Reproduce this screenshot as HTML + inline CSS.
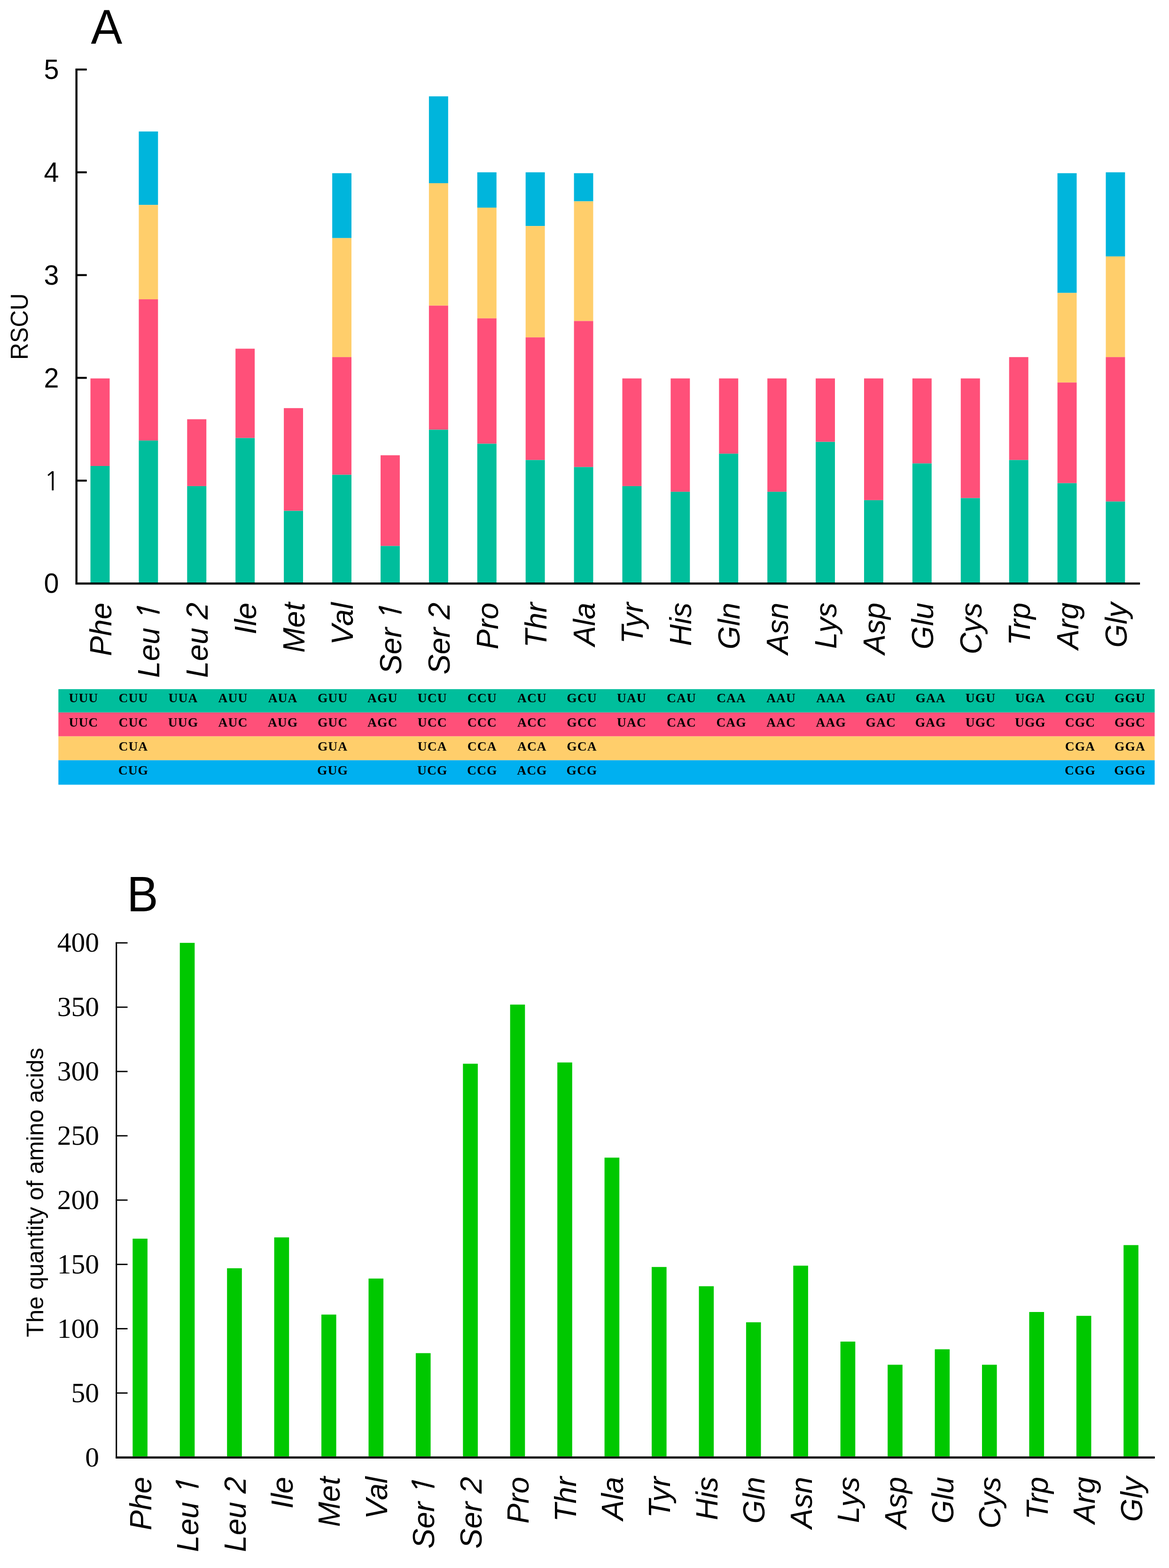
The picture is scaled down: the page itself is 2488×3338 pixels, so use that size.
<!DOCTYPE html><html><head><meta charset="utf-8"><title>RSCU and amino acid composition</title><style>html,body{margin:0;padding:0;background:#fff;overflow:hidden}svg{display:block}.s{font-family:"Liberation Sans",Arial,sans-serif}.r{font-family:"Liberation Serif","Times New Roman",serif}</style></head><body>
<svg width="2488" height="3338" viewBox="0 0 2488 3338">
<rect x="0" y="0" width="2488" height="3338" fill="#fff"/>
<text class="s" transform="translate(193.6 92.8) scale(1 1.04)" font-size="100">A</text>
<rect x="192.5" y="805.6" width="40.9" height="186.4" fill="#FF5079"/>
<rect x="192.5" y="992" width="40.9" height="248" fill="#00BE9C"/>
<rect x="295.4" y="279.9" width="40.9" height="156.4" fill="#00B5DC"/>
<rect x="295.4" y="436.3" width="40.9" height="200.8" fill="#FFCE6B"/>
<rect x="295.4" y="637.1" width="40.9" height="300.7" fill="#FF5079"/>
<rect x="295.4" y="937.8" width="40.9" height="302.2" fill="#00BE9C"/>
<rect x="398.3" y="892.5" width="40.9" height="142.4" fill="#FF5079"/>
<rect x="398.3" y="1034.9" width="40.9" height="205.1" fill="#00BE9C"/>
<rect x="501.2" y="742.3" width="40.9" height="190.2" fill="#FF5079"/>
<rect x="501.2" y="932.5" width="40.9" height="307.5" fill="#00BE9C"/>
<rect x="604.1" y="868.8" width="40.9" height="218.7" fill="#FF5079"/>
<rect x="604.1" y="1087.5" width="40.9" height="152.5" fill="#00BE9C"/>
<rect x="707.1" y="368.7" width="40.9" height="138.1" fill="#00B5DC"/>
<rect x="707.1" y="506.8" width="40.9" height="253.4" fill="#FFCE6B"/>
<rect x="707.1" y="760.2" width="40.9" height="250.5" fill="#FF5079"/>
<rect x="707.1" y="1010.7" width="40.9" height="229.3" fill="#00BE9C"/>
<rect x="810" y="969.2" width="40.9" height="193.1" fill="#FF5079"/>
<rect x="810" y="1162.3" width="40.9" height="77.7" fill="#00BE9C"/>
<rect x="912.9" y="205.1" width="40.9" height="184.9" fill="#00B5DC"/>
<rect x="912.9" y="390" width="40.9" height="260.6" fill="#FFCE6B"/>
<rect x="912.9" y="650.6" width="40.9" height="264.1" fill="#FF5079"/>
<rect x="912.9" y="914.7" width="40.9" height="325.3" fill="#00BE9C"/>
<rect x="1015.8" y="366.8" width="40.9" height="75.3" fill="#00B5DC"/>
<rect x="1015.8" y="442.1" width="40.9" height="235.6" fill="#FFCE6B"/>
<rect x="1015.8" y="677.7" width="40.9" height="266.9" fill="#FF5079"/>
<rect x="1015.8" y="944.6" width="40.9" height="295.4" fill="#00BE9C"/>
<rect x="1118.7" y="366.8" width="40.9" height="114.4" fill="#00B5DC"/>
<rect x="1118.7" y="481.2" width="40.9" height="237" fill="#FFCE6B"/>
<rect x="1118.7" y="718.2" width="40.9" height="261.1" fill="#FF5079"/>
<rect x="1118.7" y="979.3" width="40.9" height="260.7" fill="#00BE9C"/>
<rect x="1221.6" y="368.7" width="40.9" height="59.9" fill="#00B5DC"/>
<rect x="1221.6" y="428.6" width="40.9" height="254.8" fill="#FFCE6B"/>
<rect x="1221.6" y="683.4" width="40.9" height="310.9" fill="#FF5079"/>
<rect x="1221.6" y="994.3" width="40.9" height="245.7" fill="#00BE9C"/>
<rect x="1324.5" y="805.6" width="40.9" height="229.3" fill="#FF5079"/>
<rect x="1324.5" y="1034.9" width="40.9" height="205.1" fill="#00BE9C"/>
<rect x="1427.4" y="805.6" width="40.9" height="241.3" fill="#FF5079"/>
<rect x="1427.4" y="1046.9" width="40.9" height="193.1" fill="#00BE9C"/>
<rect x="1530.3" y="805.6" width="40.9" height="160.2" fill="#FF5079"/>
<rect x="1530.3" y="965.8" width="40.9" height="274.2" fill="#00BE9C"/>
<rect x="1633.2" y="805.6" width="40.9" height="241.3" fill="#FF5079"/>
<rect x="1633.2" y="1046.9" width="40.9" height="193.1" fill="#00BE9C"/>
<rect x="1736.1" y="805.6" width="40.9" height="135.1" fill="#FF5079"/>
<rect x="1736.1" y="940.7" width="40.9" height="299.3" fill="#00BE9C"/>
<rect x="1839" y="805.6" width="40.9" height="259.2" fill="#FF5079"/>
<rect x="1839" y="1064.8" width="40.9" height="175.2" fill="#00BE9C"/>
<rect x="1941.9" y="805.6" width="40.9" height="181" fill="#FF5079"/>
<rect x="1941.9" y="986.6" width="40.9" height="253.4" fill="#00BE9C"/>
<rect x="2044.8" y="805.6" width="40.9" height="254.8" fill="#FF5079"/>
<rect x="2044.8" y="1060.4" width="40.9" height="179.6" fill="#00BE9C"/>
<rect x="2147.7" y="760.2" width="40.9" height="219.1" fill="#FF5079"/>
<rect x="2147.7" y="979.3" width="40.9" height="260.7" fill="#00BE9C"/>
<rect x="2250.6" y="368.7" width="40.9" height="254.9" fill="#00B5DC"/>
<rect x="2250.6" y="623.6" width="40.9" height="190.7" fill="#FFCE6B"/>
<rect x="2250.6" y="814.3" width="40.9" height="214.3" fill="#FF5079"/>
<rect x="2250.6" y="1028.6" width="40.9" height="211.4" fill="#00BE9C"/>
<rect x="2353.5" y="366.8" width="40.9" height="179.1" fill="#00B5DC"/>
<rect x="2353.5" y="545.9" width="40.9" height="214.3" fill="#FFCE6B"/>
<rect x="2353.5" y="760.2" width="40.9" height="307.5" fill="#FF5079"/>
<rect x="2353.5" y="1067.7" width="40.9" height="172.3" fill="#00BE9C"/>
<path d="M162.7 146V1244.4M160.5 1242.2H2426.2" stroke="#000" stroke-width="4.4" fill="none"/>
<path d="M161 1023.2H184.7" stroke="#000" stroke-width="4.2"/>
<text transform="translate(127.4 1044)" font-size="56" text-anchor="end" style="font-family:NanumGothic,'Liberation Sans',sans-serif">1</text>
<path d="M161 804.4H184.7" stroke="#000" stroke-width="4.2"/>
<text class="s" transform="translate(125.5 824.6) scale(1 1.035)" font-size="57.5" text-anchor="end">2</text>
<path d="M161 585.6H184.7" stroke="#000" stroke-width="4.2"/>
<text class="s" transform="translate(125.5 605.8) scale(1 1.035)" font-size="57.5" text-anchor="end">3</text>
<path d="M161 366.8H184.7" stroke="#000" stroke-width="4.2"/>
<text class="s" transform="translate(125.5 387) scale(1 1.035)" font-size="57.5" text-anchor="end">4</text>
<path d="M161 148H184.7" stroke="#000" stroke-width="4.2"/>
<text class="s" transform="translate(125.5 168.2) scale(1 1.035)" font-size="57.5" text-anchor="end">5</text>
<text class="s" transform="translate(125.5 1262.2) scale(1 1.035)" font-size="57.5" text-anchor="end">0</text>
<text class="s" transform="translate(59.2 695.2) rotate(-90) scale(1 1.04)" font-size="50" text-anchor="middle">RSCU</text>
<text class="s" transform="translate(236.5 1282.8) rotate(-90)" font-size="64" font-style="italic" text-anchor="end">Phe</text>
<text class="s" transform="translate(339.4 1282.8) rotate(-90)" font-size="64" font-style="italic" text-anchor="end">Leu <tspan style="font-family:NanumGothic,'Liberation Sans',sans-serif;stroke:#000;stroke-width:1px;letter-spacing:4px" dx="-7.2">1</tspan></text>
<text class="s" transform="translate(442.3 1282.8) rotate(-90)" font-size="64" font-style="italic" text-anchor="end">Leu 2</text>
<text class="s" transform="translate(545.2 1282.8) rotate(-90)" font-size="64" font-style="italic" text-anchor="end">Ile</text>
<text class="s" transform="translate(648.1 1282.8) rotate(-90)" font-size="64" font-style="italic" text-anchor="end">Met</text>
<text class="s" transform="translate(751 1282.8) rotate(-90)" font-size="64" font-style="italic" text-anchor="end">Val</text>
<text class="s" transform="translate(853.9 1282.8) rotate(-90)" font-size="64" font-style="italic" text-anchor="end">Ser <tspan style="font-family:NanumGothic,'Liberation Sans',sans-serif;stroke:#000;stroke-width:1px;letter-spacing:4px" dx="-7.2">1</tspan></text>
<text class="s" transform="translate(956.8 1282.8) rotate(-90)" font-size="64" font-style="italic" text-anchor="end">Ser 2</text>
<text class="s" transform="translate(1059.7 1282.8) rotate(-90)" font-size="64" font-style="italic" text-anchor="end">Pro</text>
<text class="s" transform="translate(1162.6 1282.8) rotate(-90)" font-size="64" font-style="italic" text-anchor="end">Thr</text>
<text class="s" transform="translate(1265.5 1282.8) rotate(-90)" font-size="64" font-style="italic" text-anchor="end">Ala</text>
<text class="s" transform="translate(1368.4 1282.8) rotate(-90)" font-size="64" font-style="italic" text-anchor="end">Tyr</text>
<text class="s" transform="translate(1471.4 1282.8) rotate(-90)" font-size="64" font-style="italic" text-anchor="end">His</text>
<text class="s" transform="translate(1574.3 1282.8) rotate(-90)" font-size="64" font-style="italic" text-anchor="end">Gln</text>
<text class="s" transform="translate(1677.2 1282.8) rotate(-90)" font-size="64" font-style="italic" text-anchor="end">Asn</text>
<text class="s" transform="translate(1780.1 1282.8) rotate(-90)" font-size="64" font-style="italic" text-anchor="end">Lys</text>
<text class="s" transform="translate(1883 1282.8) rotate(-90)" font-size="64" font-style="italic" text-anchor="end">Asp</text>
<text class="s" transform="translate(1985.9 1282.8) rotate(-90)" font-size="64" font-style="italic" text-anchor="end">Glu</text>
<text class="s" transform="translate(2088.8 1282.8) rotate(-90)" font-size="64" font-style="italic" text-anchor="end">Cys</text>
<text class="s" transform="translate(2191.7 1282.8) rotate(-90)" font-size="64" font-style="italic" text-anchor="end">Trp</text>
<text class="s" transform="translate(2294.6 1282.8) rotate(-90)" font-size="64" font-style="italic" text-anchor="end">Arg</text>
<text class="s" transform="translate(2397.5 1282.8) rotate(-90)" font-size="64" font-style="italic" text-anchor="end">Gly</text>
<rect x="124.3" y="1467.1" width="2333.2" height="49.7" fill="#00BE9C"/>
<rect x="124.3" y="1516.8" width="2333.2" height="50.8" fill="#FF5079"/>
<rect x="124.3" y="1567.6" width="2333.2" height="50.8" fill="#FFCE6B"/>
<rect x="124.3" y="1618.4" width="2333.2" height="52.1" fill="#00B0F0"/>
<text class="r" x="177.9" y="1495.4" font-size="27.5" font-weight="bold" letter-spacing="1.1" text-anchor="middle">UUU</text>
<text class="r" x="283.9" y="1495.4" font-size="27.5" font-weight="bold" letter-spacing="1.1" text-anchor="middle">CUU</text>
<text class="r" x="390" y="1495.4" font-size="27.5" font-weight="bold" letter-spacing="1.1" text-anchor="middle">UUA</text>
<text class="r" x="496" y="1495.4" font-size="27.5" font-weight="bold" letter-spacing="1.1" text-anchor="middle">AUU</text>
<text class="r" x="602.1" y="1495.4" font-size="27.5" font-weight="bold" letter-spacing="1.1" text-anchor="middle">AUA</text>
<text class="r" x="708.1" y="1495.4" font-size="27.5" font-weight="bold" letter-spacing="1.1" text-anchor="middle">GUU</text>
<text class="r" x="814.2" y="1495.4" font-size="27.5" font-weight="bold" letter-spacing="1.1" text-anchor="middle">AGU</text>
<text class="r" x="920.3" y="1495.4" font-size="27.5" font-weight="bold" letter-spacing="1.1" text-anchor="middle">UCU</text>
<text class="r" x="1026.3" y="1495.4" font-size="27.5" font-weight="bold" letter-spacing="1.1" text-anchor="middle">CCU</text>
<text class="r" x="1132.4" y="1495.4" font-size="27.5" font-weight="bold" letter-spacing="1.1" text-anchor="middle">ACU</text>
<text class="r" x="1238.4" y="1495.4" font-size="27.5" font-weight="bold" letter-spacing="1.1" text-anchor="middle">GCU</text>
<text class="r" x="1344.5" y="1495.4" font-size="27.5" font-weight="bold" letter-spacing="1.1" text-anchor="middle">UAU</text>
<text class="r" x="1450.5" y="1495.4" font-size="27.5" font-weight="bold" letter-spacing="1.1" text-anchor="middle">CAU</text>
<text class="r" x="1556.6" y="1495.4" font-size="27.5" font-weight="bold" letter-spacing="1.1" text-anchor="middle">CAA</text>
<text class="r" x="1662.6" y="1495.4" font-size="27.5" font-weight="bold" letter-spacing="1.1" text-anchor="middle">AAU</text>
<text class="r" x="1768.7" y="1495.4" font-size="27.5" font-weight="bold" letter-spacing="1.1" text-anchor="middle">AAA</text>
<text class="r" x="1874.7" y="1495.4" font-size="27.5" font-weight="bold" letter-spacing="1.1" text-anchor="middle">GAU</text>
<text class="r" x="1980.8" y="1495.4" font-size="27.5" font-weight="bold" letter-spacing="1.1" text-anchor="middle">GAA</text>
<text class="r" x="2086.9" y="1495.4" font-size="27.5" font-weight="bold" letter-spacing="1.1" text-anchor="middle">UGU</text>
<text class="r" x="2192.9" y="1495.4" font-size="27.5" font-weight="bold" letter-spacing="1.1" text-anchor="middle">UGA</text>
<text class="r" x="2299" y="1495.4" font-size="27.5" font-weight="bold" letter-spacing="1.1" text-anchor="middle">CGU</text>
<text class="r" x="2405" y="1495.4" font-size="27.5" font-weight="bold" letter-spacing="1.1" text-anchor="middle">GGU</text>
<text class="r" x="177.9" y="1546.9" font-size="27.5" font-weight="bold" letter-spacing="1.1" text-anchor="middle">UUC</text>
<text class="r" x="283.9" y="1546.9" font-size="27.5" font-weight="bold" letter-spacing="1.1" text-anchor="middle">CUC</text>
<text class="r" x="390" y="1546.9" font-size="27.5" font-weight="bold" letter-spacing="1.1" text-anchor="middle">UUG</text>
<text class="r" x="496" y="1546.9" font-size="27.5" font-weight="bold" letter-spacing="1.1" text-anchor="middle">AUC</text>
<text class="r" x="602.1" y="1546.9" font-size="27.5" font-weight="bold" letter-spacing="1.1" text-anchor="middle">AUG</text>
<text class="r" x="708.1" y="1546.9" font-size="27.5" font-weight="bold" letter-spacing="1.1" text-anchor="middle">GUC</text>
<text class="r" x="814.2" y="1546.9" font-size="27.5" font-weight="bold" letter-spacing="1.1" text-anchor="middle">AGC</text>
<text class="r" x="920.3" y="1546.9" font-size="27.5" font-weight="bold" letter-spacing="1.1" text-anchor="middle">UCC</text>
<text class="r" x="1026.3" y="1546.9" font-size="27.5" font-weight="bold" letter-spacing="1.1" text-anchor="middle">CCC</text>
<text class="r" x="1132.4" y="1546.9" font-size="27.5" font-weight="bold" letter-spacing="1.1" text-anchor="middle">ACC</text>
<text class="r" x="1238.4" y="1546.9" font-size="27.5" font-weight="bold" letter-spacing="1.1" text-anchor="middle">GCC</text>
<text class="r" x="1344.5" y="1546.9" font-size="27.5" font-weight="bold" letter-spacing="1.1" text-anchor="middle">UAC</text>
<text class="r" x="1450.5" y="1546.9" font-size="27.5" font-weight="bold" letter-spacing="1.1" text-anchor="middle">CAC</text>
<text class="r" x="1556.6" y="1546.9" font-size="27.5" font-weight="bold" letter-spacing="1.1" text-anchor="middle">CAG</text>
<text class="r" x="1662.6" y="1546.9" font-size="27.5" font-weight="bold" letter-spacing="1.1" text-anchor="middle">AAC</text>
<text class="r" x="1768.7" y="1546.9" font-size="27.5" font-weight="bold" letter-spacing="1.1" text-anchor="middle">AAG</text>
<text class="r" x="1874.7" y="1546.9" font-size="27.5" font-weight="bold" letter-spacing="1.1" text-anchor="middle">GAC</text>
<text class="r" x="1980.8" y="1546.9" font-size="27.5" font-weight="bold" letter-spacing="1.1" text-anchor="middle">GAG</text>
<text class="r" x="2086.9" y="1546.9" font-size="27.5" font-weight="bold" letter-spacing="1.1" text-anchor="middle">UGC</text>
<text class="r" x="2192.9" y="1546.9" font-size="27.5" font-weight="bold" letter-spacing="1.1" text-anchor="middle">UGG</text>
<text class="r" x="2299" y="1546.9" font-size="27.5" font-weight="bold" letter-spacing="1.1" text-anchor="middle">CGC</text>
<text class="r" x="2405" y="1546.9" font-size="27.5" font-weight="bold" letter-spacing="1.1" text-anchor="middle">GGC</text>
<text class="r" x="283.9" y="1597.9" font-size="27.5" font-weight="bold" letter-spacing="1.1" text-anchor="middle">CUA</text>
<text class="r" x="708.1" y="1597.9" font-size="27.5" font-weight="bold" letter-spacing="1.1" text-anchor="middle">GUA</text>
<text class="r" x="920.3" y="1597.9" font-size="27.5" font-weight="bold" letter-spacing="1.1" text-anchor="middle">UCA</text>
<text class="r" x="1026.3" y="1597.9" font-size="27.5" font-weight="bold" letter-spacing="1.1" text-anchor="middle">CCA</text>
<text class="r" x="1132.4" y="1597.9" font-size="27.5" font-weight="bold" letter-spacing="1.1" text-anchor="middle">ACA</text>
<text class="r" x="1238.4" y="1597.9" font-size="27.5" font-weight="bold" letter-spacing="1.1" text-anchor="middle">GCA</text>
<text class="r" x="2299" y="1597.9" font-size="27.5" font-weight="bold" letter-spacing="1.1" text-anchor="middle">CGA</text>
<text class="r" x="2405" y="1597.9" font-size="27.5" font-weight="bold" letter-spacing="1.1" text-anchor="middle">GGA</text>
<text class="r" x="283.9" y="1648.7" font-size="27.5" font-weight="bold" letter-spacing="1.1" text-anchor="middle">CUG</text>
<text class="r" x="708.1" y="1648.7" font-size="27.5" font-weight="bold" letter-spacing="1.1" text-anchor="middle">GUG</text>
<text class="r" x="920.3" y="1648.7" font-size="27.5" font-weight="bold" letter-spacing="1.1" text-anchor="middle">UCG</text>
<text class="r" x="1026.3" y="1648.7" font-size="27.5" font-weight="bold" letter-spacing="1.1" text-anchor="middle">CCG</text>
<text class="r" x="1132.4" y="1648.7" font-size="27.5" font-weight="bold" letter-spacing="1.1" text-anchor="middle">ACG</text>
<text class="r" x="1238.4" y="1648.7" font-size="27.5" font-weight="bold" letter-spacing="1.1" text-anchor="middle">GCG</text>
<text class="r" x="2299" y="1648.7" font-size="27.5" font-weight="bold" letter-spacing="1.1" text-anchor="middle">CGG</text>
<text class="r" x="2405" y="1648.7" font-size="27.5" font-weight="bold" letter-spacing="1.1" text-anchor="middle">GGG</text>
<text class="s" transform="translate(270 1939.6) scale(1 1.06)" font-size="100">B</text>
<rect x="282.3" y="2636.9" width="31.6" height="463.7" fill="#00C800"/>
<rect x="382.7" y="2007.2" width="31.6" height="1093.4" fill="#00C800"/>
<rect x="483.2" y="2699.9" width="31.6" height="400.7" fill="#00C800"/>
<rect x="583.6" y="2634.2" width="31.6" height="466.4" fill="#00C800"/>
<rect x="684" y="2798.5" width="31.6" height="302.1" fill="#00C800"/>
<rect x="784.4" y="2721.8" width="31.6" height="378.8" fill="#00C800"/>
<rect x="884.9" y="2880.6" width="31.6" height="220" fill="#00C800"/>
<rect x="985.3" y="2264.5" width="31.6" height="836.1" fill="#00C800"/>
<rect x="1085.7" y="2138.6" width="31.6" height="962" fill="#00C800"/>
<rect x="1186.2" y="2261.8" width="31.6" height="838.8" fill="#00C800"/>
<rect x="1286.6" y="2464.4" width="31.6" height="636.2" fill="#00C800"/>
<rect x="1387" y="2697.2" width="31.6" height="403.4" fill="#00C800"/>
<rect x="1487.5" y="2738.2" width="31.6" height="362.4" fill="#00C800"/>
<rect x="1587.9" y="2814.9" width="31.6" height="285.7" fill="#00C800"/>
<rect x="1688.3" y="2694.4" width="31.6" height="406.2" fill="#00C800"/>
<rect x="1788.7" y="2856" width="31.6" height="244.6" fill="#00C800"/>
<rect x="1889.2" y="2905.3" width="31.6" height="195.3" fill="#00C800"/>
<rect x="1989.6" y="2872.4" width="31.6" height="228.2" fill="#00C800"/>
<rect x="2090" y="2905.3" width="31.6" height="195.3" fill="#00C800"/>
<rect x="2190.5" y="2793" width="31.6" height="307.6" fill="#00C800"/>
<rect x="2290.9" y="2801.2" width="31.6" height="299.4" fill="#00C800"/>
<rect x="2391.3" y="2650.6" width="31.6" height="450" fill="#00C800"/>
<path d="M247.7 2005.8V3104.5M246.2 3102.7H2457.7" stroke="#000" stroke-width="3" fill="none"/>
<path d="M246.2 3102.7H2457.7" stroke="#000" stroke-width="4.4" fill="none"/>
<text class="r" transform="translate(211 3121.5) scale(1 1.0)" font-size="59.5" text-anchor="end">0</text>
<path d="M246.2 2965.5H271.5" stroke="#000" stroke-width="2.8"/>
<text class="r" transform="translate(211 2984.6) scale(1 1.0)" font-size="59.5" text-anchor="end">50</text>
<path d="M246.2 2828.6H271.5" stroke="#000" stroke-width="2.8"/>
<text class="r" transform="translate(211 2847.7) scale(1 1.0)" font-size="59.5" text-anchor="end">100</text>
<path d="M246.2 2691.7H271.5" stroke="#000" stroke-width="2.8"/>
<text class="r" transform="translate(211 2710.8) scale(1 1.0)" font-size="59.5" text-anchor="end">150</text>
<path d="M246.2 2554.8H271.5" stroke="#000" stroke-width="2.8"/>
<text class="r" transform="translate(211 2573.9) scale(1 1.0)" font-size="59.5" text-anchor="end">200</text>
<path d="M246.2 2417.9H271.5" stroke="#000" stroke-width="2.8"/>
<text class="r" transform="translate(211 2437) scale(1 1.0)" font-size="59.5" text-anchor="end">250</text>
<path d="M246.2 2281H271.5" stroke="#000" stroke-width="2.8"/>
<text class="r" transform="translate(211 2300.1) scale(1 1.0)" font-size="59.5" text-anchor="end">300</text>
<path d="M246.2 2144.1H271.5" stroke="#000" stroke-width="2.8"/>
<text class="r" transform="translate(211 2163.2) scale(1 1.0)" font-size="59.5" text-anchor="end">350</text>
<path d="M246.2 2007.2H271.5" stroke="#000" stroke-width="2.8"/>
<text class="r" transform="translate(211 2026.3) scale(1 1.0)" font-size="59.5" text-anchor="end">400</text>
<text class="s" transform="translate(92 2538.4) rotate(-90)" font-size="50.4" text-anchor="middle">The quantity of amino acids</text>
<text class="s" transform="translate(321.6 3143.8) rotate(-90)" font-size="64" font-style="italic" text-anchor="end">Phe</text>
<text class="s" transform="translate(422 3143.8) rotate(-90)" font-size="64" font-style="italic" text-anchor="end">Leu <tspan style="font-family:NanumGothic,'Liberation Sans',sans-serif;stroke:#000;stroke-width:1px;letter-spacing:4px" dx="-7.2">1</tspan></text>
<text class="s" transform="translate(522.5 3143.8) rotate(-90)" font-size="64" font-style="italic" text-anchor="end">Leu 2</text>
<text class="s" transform="translate(622.9 3143.8) rotate(-90)" font-size="64" font-style="italic" text-anchor="end">Ile</text>
<text class="s" transform="translate(723.3 3143.8) rotate(-90)" font-size="64" font-style="italic" text-anchor="end">Met</text>
<text class="s" transform="translate(823.8 3143.8) rotate(-90)" font-size="64" font-style="italic" text-anchor="end">Val</text>
<text class="s" transform="translate(924.2 3143.8) rotate(-90)" font-size="64" font-style="italic" text-anchor="end">Ser <tspan style="font-family:NanumGothic,'Liberation Sans',sans-serif;stroke:#000;stroke-width:1px;letter-spacing:4px" dx="-7.2">1</tspan></text>
<text class="s" transform="translate(1024.6 3143.8) rotate(-90)" font-size="64" font-style="italic" text-anchor="end">Ser 2</text>
<text class="s" transform="translate(1125 3143.8) rotate(-90)" font-size="64" font-style="italic" text-anchor="end">Pro</text>
<text class="s" transform="translate(1225.5 3143.8) rotate(-90)" font-size="64" font-style="italic" text-anchor="end">Thr</text>
<text class="s" transform="translate(1325.9 3143.8) rotate(-90)" font-size="64" font-style="italic" text-anchor="end">Ala</text>
<text class="s" transform="translate(1426.3 3143.8) rotate(-90)" font-size="64" font-style="italic" text-anchor="end">Tyr</text>
<text class="s" transform="translate(1526.8 3143.8) rotate(-90)" font-size="64" font-style="italic" text-anchor="end">His</text>
<text class="s" transform="translate(1627.2 3143.8) rotate(-90)" font-size="64" font-style="italic" text-anchor="end">Gln</text>
<text class="s" transform="translate(1727.6 3143.8) rotate(-90)" font-size="64" font-style="italic" text-anchor="end">Asn</text>
<text class="s" transform="translate(1828 3143.8) rotate(-90)" font-size="64" font-style="italic" text-anchor="end">Lys</text>
<text class="s" transform="translate(1928.5 3143.8) rotate(-90)" font-size="64" font-style="italic" text-anchor="end">Asp</text>
<text class="s" transform="translate(2028.9 3143.8) rotate(-90)" font-size="64" font-style="italic" text-anchor="end">Glu</text>
<text class="s" transform="translate(2129.3 3143.8) rotate(-90)" font-size="64" font-style="italic" text-anchor="end">Cys</text>
<text class="s" transform="translate(2229.8 3143.8) rotate(-90)" font-size="64" font-style="italic" text-anchor="end">Trp</text>
<text class="s" transform="translate(2330.2 3143.8) rotate(-90)" font-size="64" font-style="italic" text-anchor="end">Arg</text>
<text class="s" transform="translate(2430.6 3143.8) rotate(-90)" font-size="64" font-style="italic" text-anchor="end">Gly</text>
</svg></body></html>
